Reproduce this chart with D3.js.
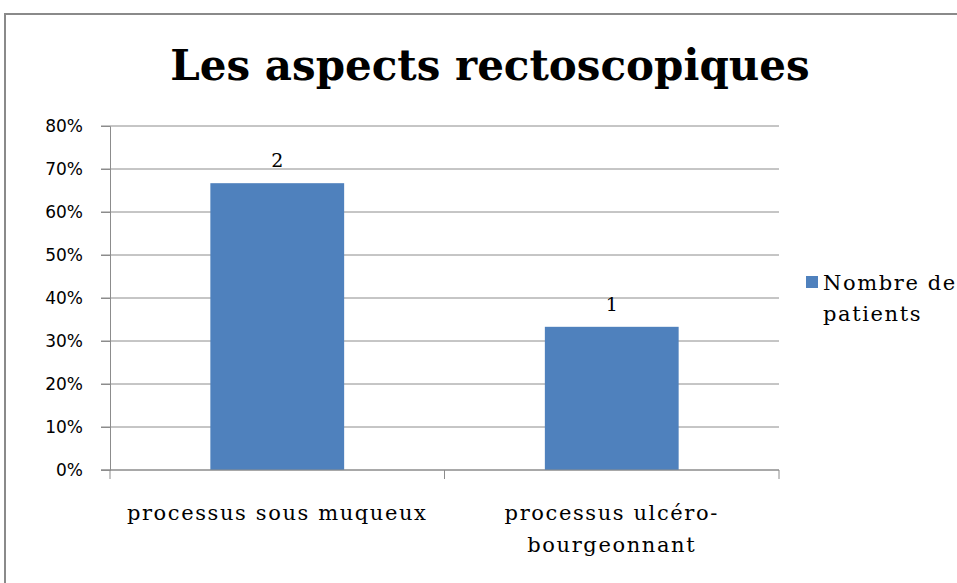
<!DOCTYPE html>
<html>
<head>
<meta charset="utf-8">
<script src="https://cdn.jsdelivr.net/npm/d3@7"></script>
<style>
  body { margin: 0; background: #fff; }
</style>
</head>
<body>
<div id="grafica"></div>
<script>
const categories = ["processus sous muqueux", "processus ulcéro-bourgeonnant"];
const catLines = [["processus sous muqueux"], ["processus ulcéro-", "bourgeonnant"]];
const percents = [0.667, 0.333];
const counts = [2, 1];
const yTicks = [0, 0.1, 0.2, 0.3, 0.4, 0.5, 0.6, 0.7, 0.8];
const seriesName = ["Nombre de", "patients"];

const width = 957;
const height = 583;
const margin = { top: 126, left: 110, bottom: 113, right: 178 };
const iwidth = width - margin.left - margin.right;
const iheight = height - margin.top - margin.bottom;
const serif = "'DejaVu Serif', serif";
const sans = "'DejaVu Sans', sans-serif";

const svg = d3.select("#grafica").append("svg")
  .attr("width", width)
  .attr("height", height);

// chart border
svg.append("rect")
  .attr("x", 5).attr("y", 14)
  .attr("width", 1000).attr("height", 600)
  .attr("fill", "none")
  .attr("stroke", "#8a8a8a")
  .attr("stroke-width", 2);

svg.append("text")
  .attr("x", 490).attr("y", 80)
  .attr("text-anchor", "middle")
  .style("font-family", serif)
  .style("font-weight", "bold")
  .style("font-size", "42px")
  .text("Les aspects rectoscopiques");

const g = svg.append("g")
  .attr("transform", `translate(${margin.left},${margin.top})`);

const y = d3.scaleLinear().domain([0, 0.8]).range([iheight, 0]);
const x = d3.scaleBand().domain(categories).range([0, iwidth]).paddingInner(0.6).paddingOuter(0.3);

// gridlines
g.append("g")
  .selectAll("line")
  .data(yTicks)
  .join("line")
  .attr("x1", -9).attr("x2", iwidth)
  .attr("y1", d => y(d)).attr("y2", d => y(d))
  .attr("stroke", "#8c8c8c")
  .attr("stroke-width", 1);

const yAxis = g.append("g")
  .call(d3.axisLeft(y).tickValues(yTicks).tickFormat(d3.format(".0%")).tickSize(9).tickPadding(18));
yAxis.select(".domain").attr("stroke", "#8c8c8c");
yAxis.selectAll(".tick line").attr("stroke", "#8c8c8c");
yAxis.selectAll("text")
  .style("font-family", sans)
  .style("font-size", "17px")
  .attr("fill", "#000");

g.selectAll("rect.bar")
  .data(percents)
  .join("rect")
  .attr("class", "bar")
  .attr("x", (d, i) => x(categories[i]))
  .attr("y", d => y(d))
  .attr("width", x.bandwidth())
  .attr("height", d => iheight - y(d))
  .attr("fill", "#4f81bd");

g.selectAll("text.val")
  .data(percents)
  .join("text")
  .attr("class", "val")
  .attr("x", (d, i) => x(categories[i]) + x.bandwidth() / 2)
  .attr("y", d => y(d) - 16)
  .attr("text-anchor", "middle")
  .style("font-family", serif)
  .style("font-size", "19px")
  .text((d, i) => counts[i]);

// x axis with tick marks at band boundaries
const xAxis = g.append("g").attr("transform", `translate(0,${iheight})`);
xAxis.append("line")
  .attr("x1", -9).attr("x2", iwidth)
  .attr("stroke", "#8c8c8c");
const step = iwidth / categories.length;
xAxis.selectAll("line.tk")
  .data(d3.range(categories.length + 1))
  .join("line")
  .attr("class", "tk")
  .attr("x1", d => d * step).attr("x2", d => d * step)
  .attr("y1", 0).attr("y2", 9)
  .attr("stroke", "#8c8c8c");

const labels = xAxis.selectAll("text")
  .data(catLines)
  .join("text")
  .attr("x", (d, i) => x(categories[i]) + x.bandwidth() / 2)
  .attr("y", 50)
  .attr("text-anchor", "middle")
  .style("font-family", serif)
  .style("font-size", "21px")
  .style("letter-spacing", "1.6px");
labels.selectAll("tspan")
  .data(d => d)
  .join("tspan")
  .attr("x", function () { return d3.select(this.parentNode).attr("x"); })
  .attr("dy", (d, i) => i === 0 ? 0 : 32)
  .text(d => d);

// legend
const leg = svg.append("g");
leg.append("rect")
  .attr("x", 806).attr("y", 276)
  .attr("width", 12).attr("height", 12)
  .attr("fill", "#4f81bd");
leg.selectAll("text")
  .data(seriesName)
  .join("text")
  .attr("x", 823)
  .attr("y", (d, i) => 290 + i * 31)
  .style("font-family", serif)
  .style("font-size", "21px")
  .style("letter-spacing", "1.6px")
  .text(d => d);
</script>
</body>
</html>
